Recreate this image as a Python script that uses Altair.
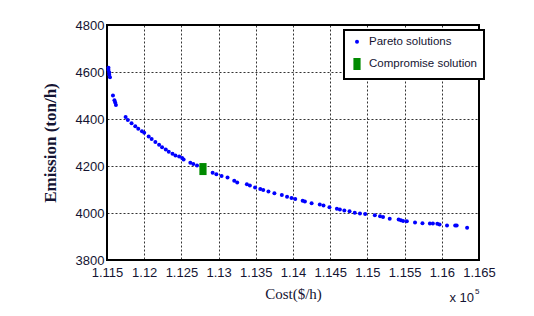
import altair as alt
import pandas as pd

pareto_cost = [1.1152, 1.1152, 1.1153, 1.1153, 1.1154, 1.1158, 1.1160, 1.1161, 1.1162,
               1.1175, 1.1178, 1.1183, 1.1188, 1.1192, 1.1197, 1.1200, 1.1206,
               1.1210, 1.1215, 1.1220, 1.1224, 1.1229, 1.1233, 1.1238, 1.1242,
               1.1247, 1.1251, 1.1253, 1.1262, 1.1266, 1.1271,
               1.1292, 1.1297, 1.1304, 1.1312, 1.1321, 1.1325, 1.1338, 1.1342,
               1.1349, 1.1356, 1.1360, 1.1367, 1.1375, 1.1385, 1.1392, 1.1398,
               1.1403, 1.1413, 1.1416, 1.1425, 1.1436, 1.1441, 1.1449, 1.1459,
               1.1463, 1.1469, 1.1476, 1.1483, 1.1490, 1.1497, 1.1510, 1.1517,
               1.1521, 1.1530, 1.1542, 1.1545, 1.1548, 1.1553, 1.1564, 1.1574,
               1.1584, 1.1588, 1.1594, 1.1597, 1.1607, 1.1618, 1.1620, 1.1634]
pareto_emis = [4618, 4608, 4598, 4588, 4578, 4500, 4480, 4470, 4460,
               4408, 4396, 4382, 4369, 4358, 4348, 4341, 4326,
               4315, 4302, 4290, 4280, 4270, 4261, 4252, 4245,
               4240, 4234, 4228, 4214, 4209, 4202,
               4171, 4165, 4157, 4151, 4137, 4130, 4122, 4117,
               4109, 4102, 4098, 4091, 4084, 4077, 4069, 4064,
               4060, 4052, 4049, 4042, 4036, 4032, 4025, 4018,
               4015, 4011, 4007, 4001, 3998, 3996, 3990, 3986,
               3983, 3976, 3972, 3969, 3966, 3965, 3960, 3956,
               3955, 3955, 3954, 3951, 3947, 3947, 3947, 3937]
comp_cost = [1.1279]
comp_emis = [4187]

x_ticks = [1.115, 1.12, 1.125, 1.13, 1.135, 1.14, 1.145, 1.15, 1.155, 1.16, 1.165]
y_ticks = [3800, 4000, 4200, 4400, 4600, 4800]
labels = ["Pareto solutions", "Compromise solution"]

df = pd.DataFrame({
    "cost": pareto_cost + comp_cost,
    "emis": pareto_emis + comp_emis,
    "type": [labels[0]] * len(pareto_cost) + [labels[1]] * len(comp_cost),
})

W, H = 372, 235
navy = "#141432"
sans = "Liberation Sans, Arial, sans-serif"
serif = "Liberation Serif, Times New Roman, serif"

grid_kw = dict(grid=True, gridColor="#000000", gridDash=[2, 2], gridOpacity=0.8,
               ticks=False, domain=False, labelFlush=False, labelOverlap=False,
               labelFont=sans, labelFontSize=13, labelColor=navy)

points = alt.Chart(df).mark_point(filled=True, opacity=1, strokeWidth=0).encode(
    x=alt.X("cost:Q", scale=alt.Scale(domain=[1.115, 1.165], nice=False, zero=False),
            axis=alt.Axis(values=x_ticks, format="~g", title="Cost($/h)",
                          titleFont=serif, titleFontWeight="normal", titleFontSize=15,
                          titleColor=navy, titlePadding=7, labelPadding=6, **grid_kw)),
    y=alt.Y("emis:Q", scale=alt.Scale(domain=[3800, 4800], nice=False, zero=False),
            axis=alt.Axis(values=y_ticks, format="d", title="Emission (ton/h)",
                          titleFont=serif, titleFontWeight="bold", titleFontSize=17,
                          titleColor=navy, titlePadding=16, labelPadding=3, **grid_kw)),
    color=alt.Color("type:N", scale=alt.Scale(domain=labels, range=["#0000ff", "#008a00"]),
                    legend=alt.Legend(title=None, orient="none", legendX=237, legendY=5,
                                      strokeColor="#000000", fillColor="#ffffff",
                                      padding=6, labelFont=sans, labelFontSize=11.5,
                                      labelColor=navy, rowPadding=7, labelOffset=5,
                                      symbolOpacity=1)),
    shape=alt.Shape("type:N", scale=alt.Scale(domain=labels,
                    range=["circle", "M-0.6,-1H0.6V1H-0.6Z"])),
    size=alt.Size("type:N", scale=alt.Scale(domain=labels, range=[16, 144])),
)

exp_text = alt.Chart(pd.DataFrame({"t": ["x 10"]})).mark_text(
    font=sans, fontSize=13, color=navy, align="right", baseline="alphabetic"
).encode(text="t:N", x=alt.value(W - 5), y=alt.value(H + 42))
exp_sup = alt.Chart(pd.DataFrame({"t": ["5"]})).mark_text(
    font=sans, fontSize=8, color=navy, align="left", baseline="alphabetic"
).encode(text="t:N", x=alt.value(W - 4), y=alt.value(H + 34))

chart = alt.layer(points, exp_text, exp_sup).properties(
    width=W, height=H,
    autosize=alt.AutoSizeParams(type="none"),
    padding={"left": 99, "top": 17, "right": 47, "bottom": 48},
).configure_view(stroke="#000000", strokeWidth=2).configure_legend(
    strokeWidth=2
)

chart.save("out.html", embed_options={"renderer": "svg", "actions": False})
